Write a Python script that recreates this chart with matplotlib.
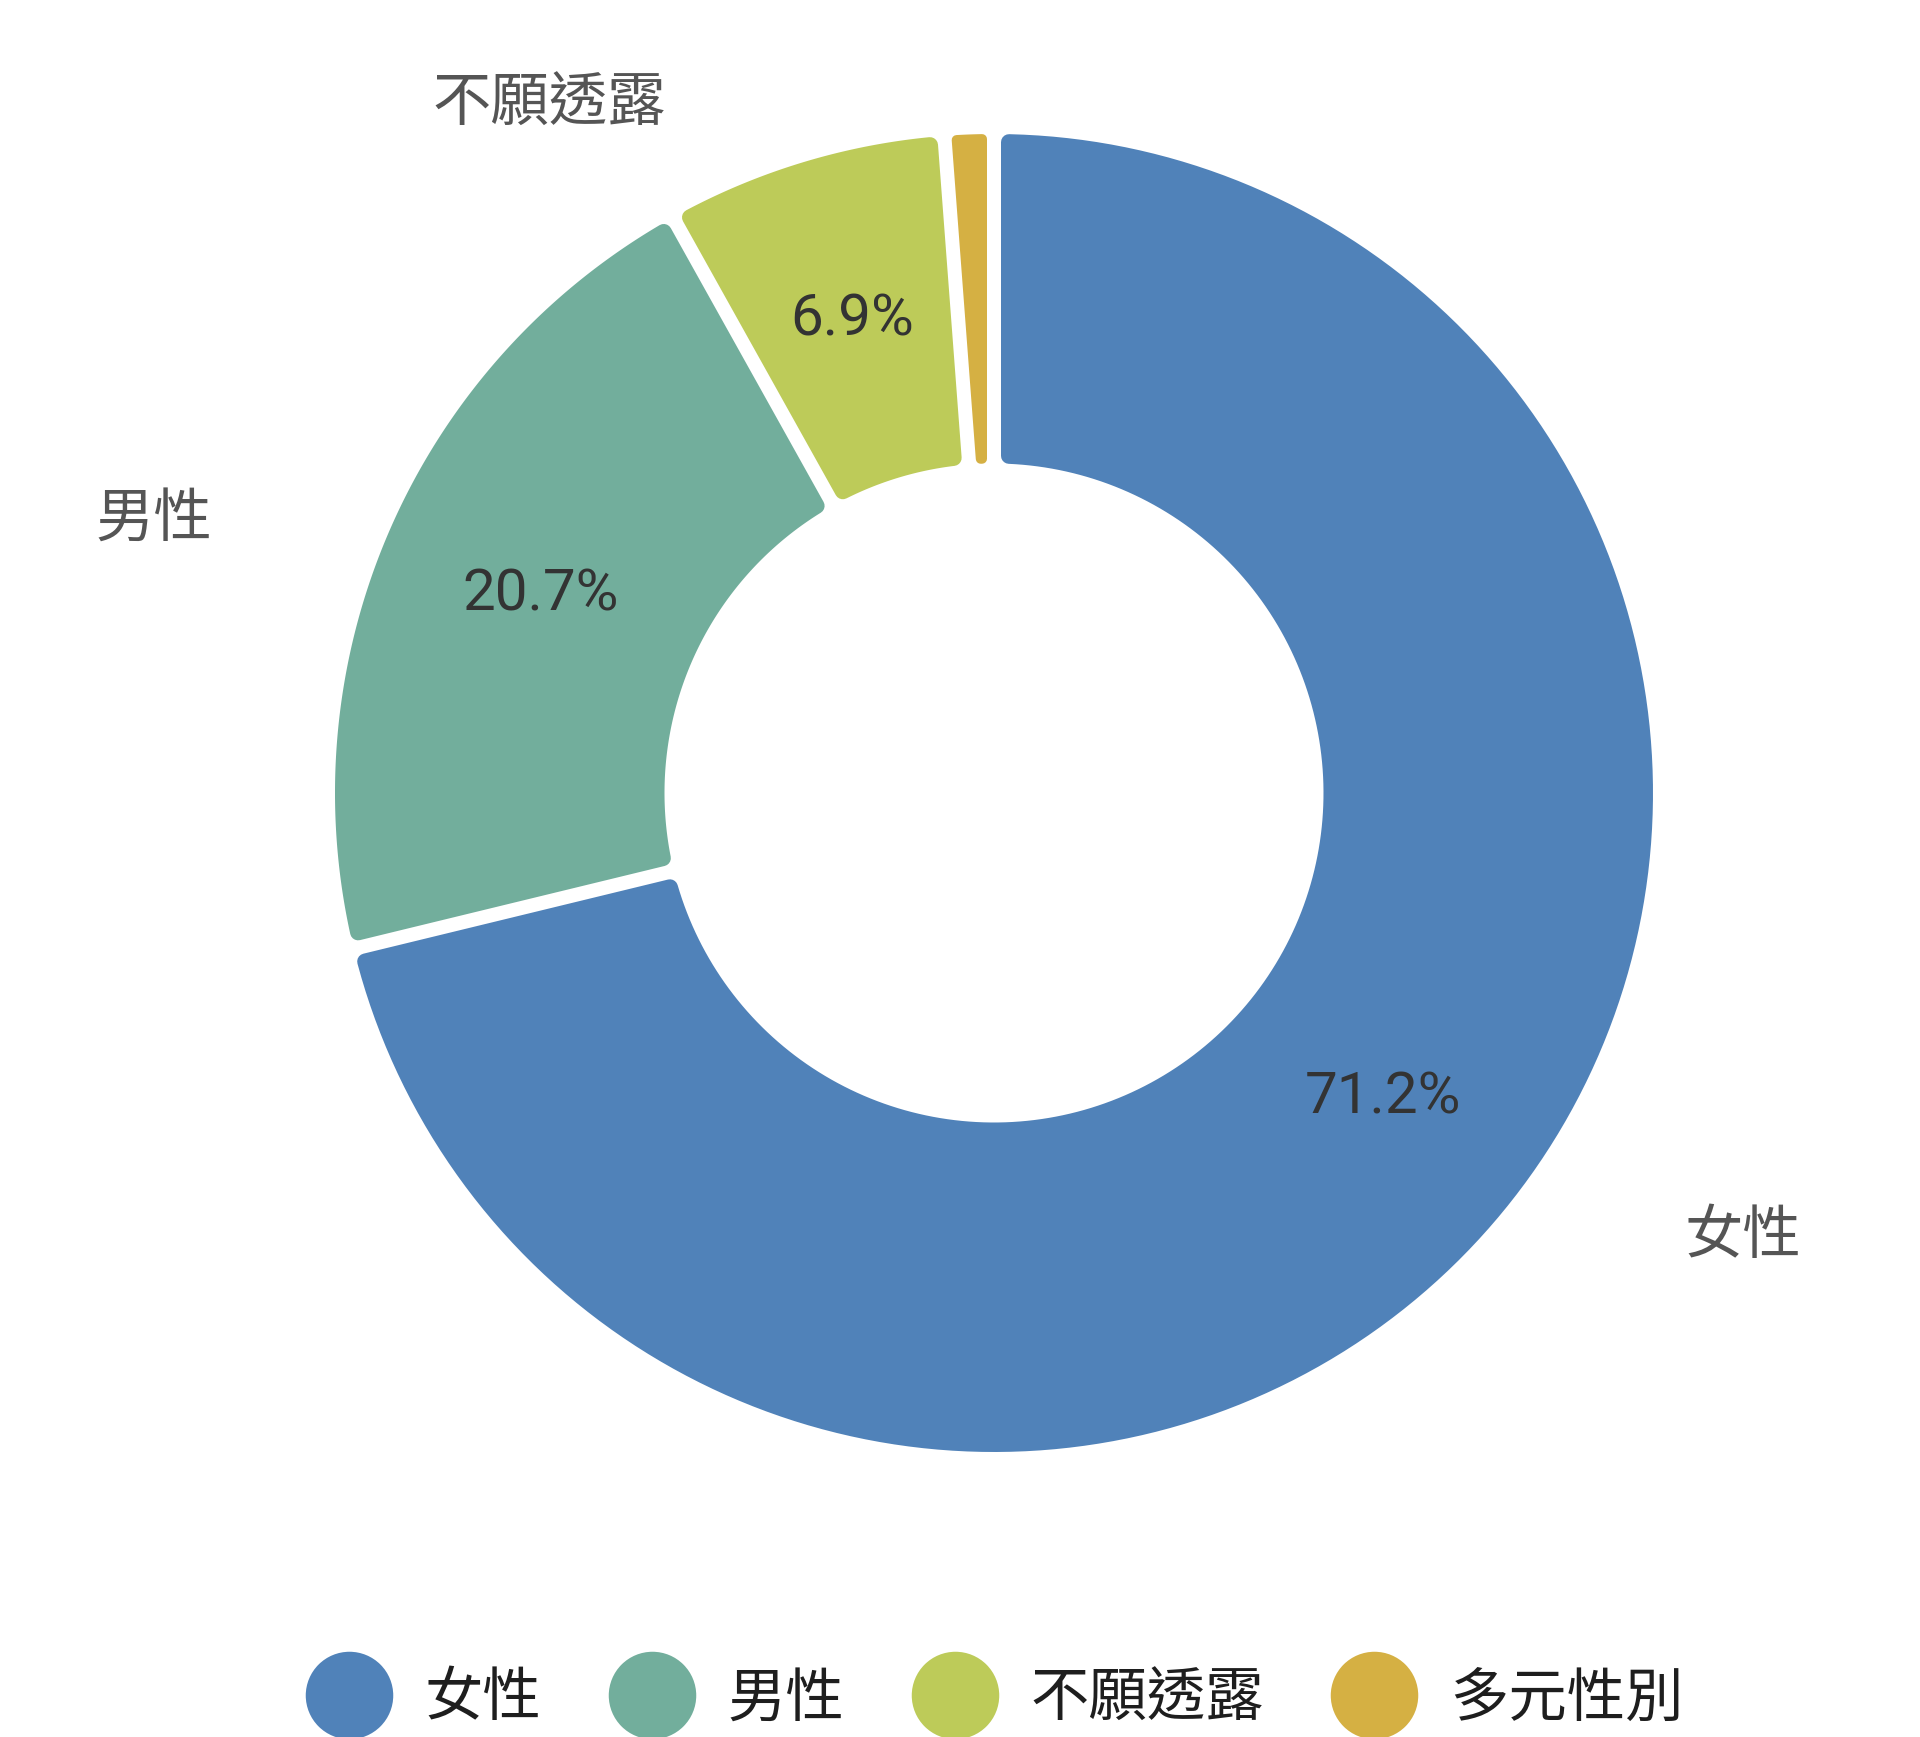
import numpy as np
import matplotlib
matplotlib.use("Agg")
import matplotlib.pyplot as plt
from matplotlib.path import Path
from matplotlib.patches import PathPatch
from matplotlib.lines import Line2D

plt.rcParams['font.family'] = ['Noto Sans CJK TC', 'DejaVu Sans']

# data
labels = ['女性', '男性', '不願透露', '多元性別']
values = [71.2, 20.7, 6.9, 1.2]
colors = ['#5082B9', '#72AE9C', '#BDCB59', '#D5B043']
show_pct = [True, True, True, False]
show_name = [True, True, True, False]

# layout (pixels of the 1920x1737 picture)
W, H = 1920, 1737
cx, cy, R = 994, 793, 659
name_pos = [(1.137, -0.673), (-1.275, 0.415), (-0.675, 1.045), None]
gap = 14 / R      # white gap between slices
rad = 8 / R       # corner rounding


def rounded_wedge(t1, t2, r_out, r_in):
    half = np.radians(t2 - t1) / 2
    r = min(rad, 0.9 * (r_in * np.sin(half) - gap / 2))
    d = gap / 2 + r
    ro = r_out - r
    ri = r_in + r
    a1o = t1 + np.degrees(np.arcsin(d / ro))
    a2o = t2 - np.degrees(np.arcsin(d / ro))
    a1i = t1 + np.degrees(np.arcsin(d / ri))
    a2i = t2 - np.degrees(np.arcsin(d / ri))
    to = np.radians(np.linspace(a1o, a2o, 200))
    ti = np.radians(np.linspace(a2i, a1i, 200))
    xs = np.concatenate([ro * np.cos(to), ri * np.cos(ti), [ro * np.cos(to[0])]])
    ys = np.concatenate([ro * np.sin(to), ri * np.sin(ti), [ro * np.sin(to[0])]])
    return Path(np.column_stack([xs, ys]), closed=True), r


fig = plt.figure(figsize=(W / 100, H / 100), dpi=100)
ax = fig.add_axes([0, 0, 1, 1])

wedges, _ = ax.pie(values, radius=1, startangle=90, counterclock=False,
                   colors=colors, wedgeprops=dict(width=0.5))
# pie sets its own limits, so set them afterwards
ax.set_xlim(-cx / R, (W - cx) / R)
ax.set_ylim(-(H - cy) / R, cy / R)
ax.set_aspect('equal')
ax.axis('off')

for w, c, v, sp in zip(wedges, colors, values, show_pct):
    w.set_visible(False)
    p, r = rounded_wedge(w.theta1, w.theta2, w.r, w.r - w.width)
    ax.add_patch(PathPatch(p, facecolor=c, edgecolor=c, lw=2 * r * R * 0.72,
                           joinstyle='round'))
    if sp:
        mid = np.radians((w.theta1 + w.theta2) / 2)
        ax.text(0.75 * np.cos(mid), 0.75 * np.sin(mid), f'{v}%',
                ha='center', va='center', fontsize=42, color='#333333',
                family=['Roboto', 'DejaVu Sans'])

for lab, pos, sn in zip(labels, name_pos, show_name):
    if sn:
        ax.text(pos[0], pos[1], lab, ha='center', va='center',
                fontsize=42, color='#555555')

handles = [Line2D([], [], marker='o', ls='', markersize=63, color=c,
                  markeredgewidth=0) for c in colors]
fig.legend(handles, labels, ncol=4, loc='center',
           bbox_to_anchor=(0.518, 38 / H), frameon=False, fontsize=42,
           handlelength=1.5, handletextpad=0.55, columnspacing=1.14,
           labelcolor='#1e1e1e')

fig.savefig('out.png', dpi=100, facecolor='white')
